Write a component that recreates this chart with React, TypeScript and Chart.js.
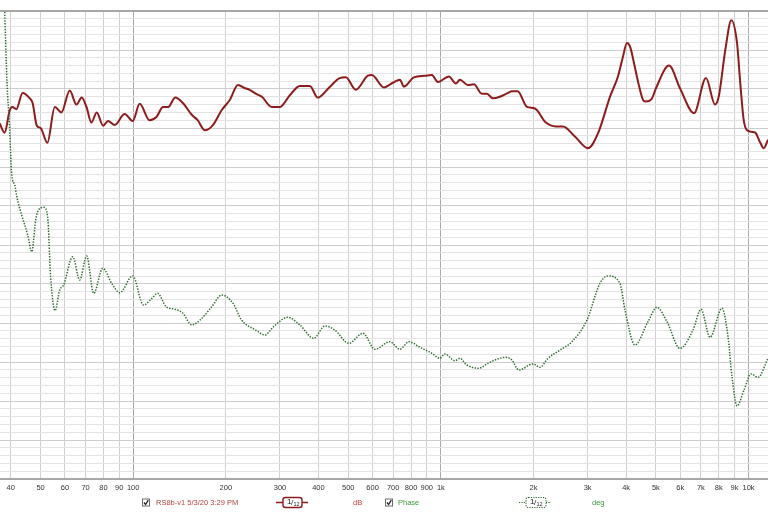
import React, { useEffect, useRef } from 'react';
import { Chart, registerables } from 'chart.js';

Chart.register(...registerables);

// X axis tick labels (Hz)
const freqTicks = [40, 50, 60, 70, 80, 90, 100, 200, 300, 400, 500, 600, 700, 800, 900,
  1000, 2000, 3000, 4000, 5000, 6000, 7000, 8000, 9000, 10000];

// SPL curve (dB)
const splFreq = [36.8, 38.2, 39.7, 40.5, 41.7, 43.7, 46.1, 47.1, 48.6, 50.0, 52.6, 55.6, 58.4, 62.2, 65.4,
  68.0, 70.5, 73.1, 76.1, 79.8, 82.8, 87.1, 93.8, 99.6, 105, 113, 119, 125, 130, 137, 145, 155, 162,
  171, 181, 194, 206, 219, 231, 239, 250, 262, 282, 300, 323, 348, 375, 398, 436, 469, 491, 529, 579,
  597, 653, 698, 736, 758, 817, 887, 935, 978, 1062, 1119, 1153, 1224, 1280, 1359, 1411, 1476, 1555,
  1652, 1702, 1776, 1905, 2021, 2195, 2366, 2494, 2728, 3007, 3241, 3545, 3764, 3900, 4027, 4130,
  4240, 4400, 4560, 4642, 4840, 5003, 5515, 5987, 6649, 7274, 7783, 8000, 8405, 8792, 9175, 9404,
  9647, 9888, 10265, 10522, 10923, 11205, 11571];
const splDb = [90.6, 89.4, 92.3, 92.7, 92.4, 94.5, 93.8, 93.2, 90.3, 90.0, 88.1, 92.7, 92.0, 94.8, 93.0,
  93.9, 92.7, 90.7, 92.0, 90.3, 90.9, 90.4, 91.8, 90.9, 93.1, 91.0, 91.4, 92.7, 92.7, 93.9, 93.2, 91.7, 91.0,
  89.7, 90.3, 92.3, 93.6, 95.5, 95.1, 94.9, 94.4, 94.0, 92.7, 92.7, 94.2, 95.4, 95.4, 93.9, 95.3, 96.4, 96.5, 94.9, 96.7,
  96.8, 95.2, 95.8, 96.2, 95.3, 96.5, 96.7, 96.8, 95.9, 96.6, 95.7, 96.2, 95.5, 95.6, 94.4, 94.4, 93.8, 94.0,
  94.5, 94.7, 94.7, 92.7, 92.5, 90.7, 90.2, 90.2, 88.9, 87.4, 89.3, 94.0, 96.6, 99.0, 100.9, 100.3,
  98.4, 95.5, 93.5, 93.4, 93.7, 95.1, 98.0, 95.1, 91.9, 96.4, 93.0, 94.0, 100.0, 103.8, 100.9, 95.7,
  91.0, 89.7, 89.5, 89.4, 88.1, 87.4, 88.5];

// Phase curve (deg)
const phaseFreq = [37.8, 38.2, 38.9, 39.6, 40.3, 41.2, 41.8, 43.4, 45.4, 46.8, 48.2, 48.9, 51.2, 52.7, 53.9,
  55.7, 57.7, 59.4, 63.6, 67.0, 70.6, 74.4, 79.6, 85.1, 90.4, 99.6, 108, 115, 120, 128, 137, 145, 155,
  165, 180, 194, 211, 225, 250, 268, 286, 318, 348, 386, 420, 452, 502, 558, 610, 683, 736, 787, 855,
  935, 993, 1030, 1111, 1153, 1215, 1329, 1422, 1521, 1627, 1702, 1793, 1992, 2099, 2228, 2438, 2667,
  2985, 3289, 3493, 3821, 3967, 4275, 4712, 5040, 5433, 5987, 6600, 7007, 7498, 8200, 8577, 8838,
  9175, 9669, 10189, 10736, 11571];
const phaseDeg = [211.5, 180.8, 124.6, 92.3, 53.8, 46.2, 37.7, 23.1, 7.7, -5.2, 19.2, 25.6, 29.0, 21.8, -24.4,
  -50.5, -34.6, -30.8, -9.0, -26.9, -8.5, -37.2, -17.9, -29.5, -36.7, -23.8, -46.2, -41.0, -37.2, -47.5, -49.5, -52.5, -61.5,
  -57.7, -47.5, -38.5, -44.8, -57.7, -65.4, -69.2, -62.8, -55.6, -61.5, -71.8, -62.3, -65.4, -75.6, -67.9, -80.2, -74.4, -80.2, -74.4, -78.7,
  -83.3, -87.2, -83.8, -89.0, -87.2, -92.3, -94.8, -91.0, -87.9, -86.4, -88.5, -96.2, -91.5, -94.1, -87.2, -80.8, -74.4,
  -57.7, -29.5, -23.8, -29.5, -50.0, -76.9, -59.0, -47.9, -59.0, -79.5, -65.4, -49.5, -71.0, -48.7, -70.5, -101.3,
  -123.8, -111.5, -99.2, -101.8, -87.2];

const splLabel = 'RS8b-v1 5/3/20 3:29 PM';
const phaseLabel = 'Phase';
const splUnit = 'dB';
const phaseUnit = 'deg';

const RED = '#8e1c1c';
const RED_TEXT = '#b84040';
const GREEN = '#2e6b2e';
const GREEN_TEXT = '#3e963e';
const FONT = '"Liberation Sans", Arial, sans-serif';

const legendPlugin = {
  id: 'rewLegend',
  afterDraw(chart: any) {
    const ctx = chart.ctx as CanvasRenderingContext2D;
    const cy = 502.5;
    ctx.save();
    const drawCheck = (x: number) => {
      ctx.fillStyle = '#fff';
      ctx.fillRect(x + 0.5, cy - 3.5, 7, 7);
      ctx.strokeStyle = '#6a6a6a';
      ctx.lineWidth = 1;
      ctx.strokeRect(x + 0.5, cy - 3.5, 7, 7);
      ctx.strokeStyle = '#222';
      ctx.lineWidth = 1.3;
      ctx.beginPath();
      ctx.moveTo(x + 2, cy);
      ctx.lineTo(x + 3.6, cy + 2);
      ctx.lineTo(x + 6.3, cy - 2.3);
      ctx.stroke();
    };
    const drawSymbol = (x0: number, x1: number, bx: number, bw: number, color: string, dashed: boolean) => {
      ctx.strokeStyle = color;
      ctx.lineWidth = dashed ? 1.2 : 1.4;
      ctx.setLineDash(dashed ? [1.2, 1.2] : []);
      ctx.beginPath();
      ctx.moveTo(x0, cy);
      ctx.lineTo(bx, cy);
      ctx.moveTo(bx + bw, cy);
      ctx.lineTo(x1, cy);
      ctx.stroke();
      ctx.beginPath();
      const r = 2.5, by = cy - 5, bh = 10;
      ctx.moveTo(bx + r, by);
      ctx.lineTo(bx + bw - r, by);
      ctx.quadraticCurveTo(bx + bw, by, bx + bw, by + r);
      ctx.lineTo(bx + bw, by + bh - r);
      ctx.quadraticCurveTo(bx + bw, by + bh, bx + bw - r, by + bh);
      ctx.lineTo(bx + r, by + bh);
      ctx.quadraticCurveTo(bx, by + bh, bx, by + bh - r);
      ctx.lineTo(bx, by + r);
      ctx.quadraticCurveTo(bx, by, bx + r, by);
      ctx.fillStyle = '#fff';
      ctx.fill();
      ctx.stroke();
      ctx.setLineDash([]);
      ctx.fillStyle = '#222';
      ctx.textBaseline = 'middle';
      ctx.textAlign = 'left';
      ctx.font = '8px ' + FONT;
      ctx.fillText('1', bx + 4, cy - 1);
      ctx.fillText('/', bx + 8, cy);
      ctx.font = '5.5px ' + FONT;
      ctx.fillText('12', bx + 10.5, cy + 2);
    };
    ctx.textBaseline = 'middle';
    ctx.textAlign = 'left';

    drawCheck(142);
    ctx.fillStyle = RED_TEXT;
    ctx.font = '7.5px ' + FONT;
    ctx.fillText(splLabel, 156, cy);
    drawSymbol(276, 308, 283, 19, RED, false);
    ctx.font = '7.5px ' + FONT;
    ctx.fillStyle = RED_TEXT;
    ctx.fillText(splUnit, 353, cy);

    drawCheck(385);
    ctx.font = '7.5px ' + FONT;
    ctx.fillStyle = GREEN_TEXT;
    ctx.fillText(phaseLabel, 398, cy);
    drawSymbol(519, 551, 526, 20, GREEN, true);
    ctx.font = '7.5px ' + FONT;
    ctx.fillStyle = GREEN_TEXT;
    ctx.fillText(phaseUnit, 592, cy);
    ctx.restore();
  },
};

export default function App() {
  const ref = useRef<HTMLCanvasElement | null>(null);

  useEffect(() => {
    if (!ref.current) return;
    const chart = new Chart(ref.current, {
      type: 'line',
      data: {
        datasets: [
          {
            label: phaseLabel,
            data: phaseFreq.map((f, i) => ({ x: f, y: phaseDeg[i] })),
            yAxisID: 'yPhase',
            borderColor: GREEN,
            borderWidth: 1.5,
            borderDash: [1.4, 1.4],
            pointRadius: 0,
            cubicInterpolationMode: 'monotone',
            fill: false,
          },
          {
            label: splLabel,
            data: splFreq.map((f, i) => ({ x: f, y: splDb[i] })),
            yAxisID: 'y',
            borderColor: RED,
            borderWidth: 2,
            pointRadius: 0,
            cubicInterpolationMode: 'monotone',
            fill: false,
          },
        ],
      },
      options: {
        animation: false,
        responsive: false,
        maintainAspectRatio: false,
        layout: { padding: { top: 11, left: 0, right: 0, bottom: 0 } },
        plugins: { legend: { display: false }, tooltip: { enabled: false } },
        scales: {
          x: {
            type: 'logarithmic',
            min: 36.9,
            max: 11570,
            afterBuildTicks: (s: any) => {
              s.ticks = freqTicks.map((v) => ({ value: v }));
            },
            afterFit: (s: any) => {
              s.height = 33;
            },
            ticks: {
              autoSkip: false,
              maxRotation: 0,
              minRotation: 0,
              padding: 4,
              color: '#333333',
              font: { family: FONT, size: 7.5 },
              callback: (v: any) => (Number(v) >= 1000 ? Number(v) / 1000 + 'k' : String(v)),
            },
            grid: {
              drawTicks: false,
              color: (c: any) => {
                const v = c.tick ? c.tick.value : 0;
                return v === 100 || v === 1000 || v === 10000 ? '#aaaaaa' : '#d0d0d0';
              },
              lineWidth: 1,
            },
            border: { display: true, color: '#a8a8a8', width: 2 },
          },
          y: {
            min: 45,
            max: 105,
            position: 'left',
            afterBuildTicks: (s: any) => {
              const t = [];
              for (let v = 45; v <= 105; v++) t.push({ value: v });
              s.ticks = t;
            },
            afterFit: (s: any) => {
              s.width = 0;
            },
            ticks: { display: false },
            grid: {
              drawTicks: false,
              color: (c: any) => {
                const v = c.tick ? c.tick.value : 0;
                if (v === 105) return '#a8a8a8';
                if (v === 45) return 'rgba(0,0,0,0)';
                return (v - 45) % 5 === 0 ? '#cdcdcd' : '#e4e4e4';
              },
              lineWidth: (c: any) => (c.tick && c.tick.value === 105 ? 2 : 1),
            },
            border: { display: false },
          },
          yPhase: {
            min: -180,
            max: 180,
            display: false,
          },
        },
      } as any,
      plugins: [legendPlugin],
    });
    return () => chart.destroy();
  }, []);

  return (
    <div style={{ position: 'absolute', left: 0, top: 0, width: 768, height: 512, background: '#fff' }}>
      <canvas ref={ref} width={768} height={512} style={{ display: 'block', width: 768, height: 512 }} />
    </div>
  );
}
